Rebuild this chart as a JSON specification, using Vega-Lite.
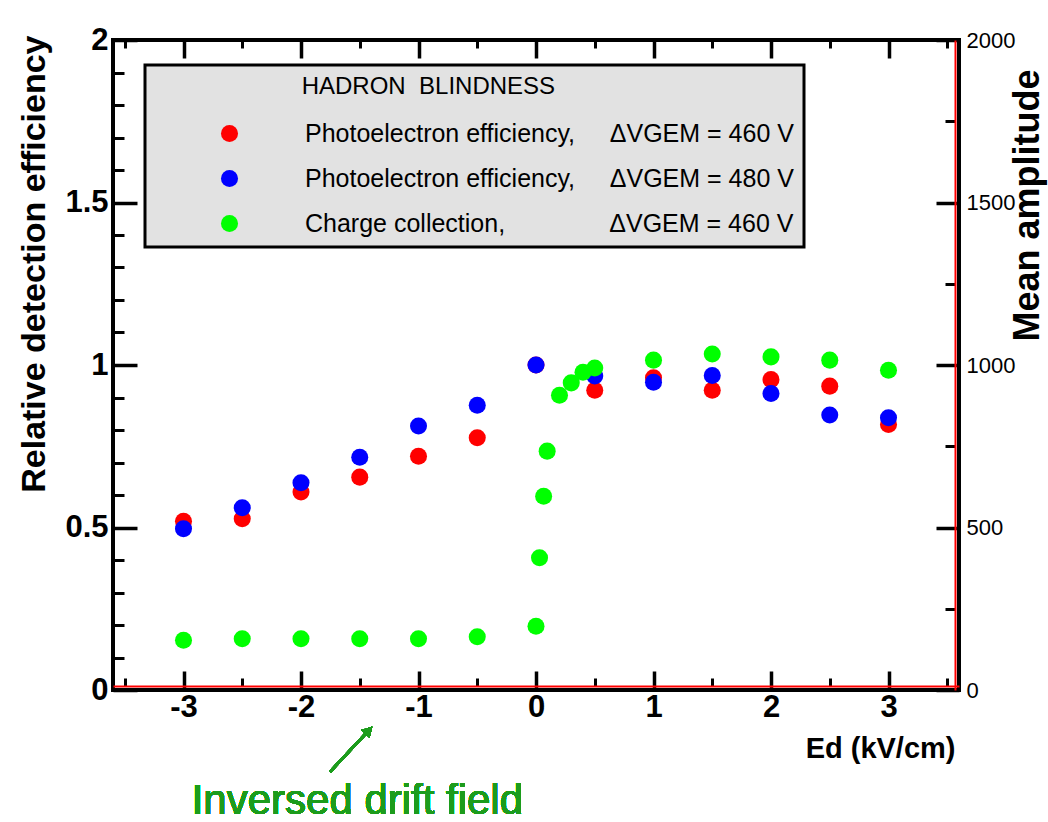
{
  "$schema": "https://vega.github.io/schema/vega-lite/v6.json",
  "autosize": {"type": "none"},
  "padding": {"left": 113, "top": 40, "right": 89, "bottom": 132},
  "width": 846,
  "height": 650,
  "background": "white",
  "config": {
    "view": {"stroke": "black", "strokeWidth": 4},
    "font": "Liberation Sans",
    "axis": {"grid": false, "domain": false, "tickColor": "black", "labelColor": "black", "titleColor": "black", "labelOverlap": false, "labelFlush": false},
    "legend": {
      "orient": "none", "legendX": 32, "legendY": 25,
      "fillColor": "#e2e2e2", "strokeColor": "black", "strokeWidth": 3, "padding": 10,
      "titleFont": "Liberation Sans", "titleFontSize": 24, "titleFontWeight": "normal", "titleColor": "black", "titlePadding": 22, "titleLimit": 1000,
      "labelFont": "Liberation Sans", "labelFontSize": 25, "labelColor": "black", "labelLimit": 1000,
      "symbolType": "circle", "symbolSize": 290, "symbolStrokeWidth": 0, "symbolOffset": 62, "labelOffset": 63, "rowPadding": 19
    }
  },
  "datasets": {
    "pts": [
      {"E": -3, "series": "pe460", "eff": 0.519},
      {"E": -2.5, "series": "pe460", "eff": 0.527},
      {"E": -2, "series": "pe460", "eff": 0.609},
      {"E": -1.5, "series": "pe460", "eff": 0.655},
      {"E": -1, "series": "pe460", "eff": 0.719},
      {"E": -0.5, "series": "pe460", "eff": 0.776},
      {"E": 0, "series": "pe460", "eff": 1.0},
      {"E": 0.5, "series": "pe460", "eff": 0.922},
      {"E": 1, "series": "pe460", "eff": 0.961},
      {"E": 1.5, "series": "pe460", "eff": 0.922},
      {"E": 2, "series": "pe460", "eff": 0.955},
      {"E": 2.5, "series": "pe460", "eff": 0.935},
      {"E": 3, "series": "pe460", "eff": 0.817},
      {"E": -3, "series": "pe480", "eff": 0.496},
      {"E": -2.5, "series": "pe480", "eff": 0.561},
      {"E": -2, "series": "pe480", "eff": 0.638},
      {"E": -1.5, "series": "pe480", "eff": 0.716},
      {"E": -1, "series": "pe480", "eff": 0.812},
      {"E": -0.5, "series": "pe480", "eff": 0.876},
      {"E": 0, "series": "pe480", "eff": 1.0},
      {"E": 0.5, "series": "pe480", "eff": 0.966},
      {"E": 1, "series": "pe480", "eff": 0.947},
      {"E": 1.5, "series": "pe480", "eff": 0.968},
      {"E": 2, "series": "pe480", "eff": 0.912},
      {"E": 2.5, "series": "pe480", "eff": 0.846},
      {"E": 3, "series": "pe480", "eff": 0.838},
      {"E": -3, "series": "cc460", "amp": 153},
      {"E": -2.5, "series": "cc460", "amp": 158},
      {"E": -2, "series": "cc460", "amp": 158},
      {"E": -1.5, "series": "cc460", "amp": 158},
      {"E": -1, "series": "cc460", "amp": 158},
      {"E": -0.5, "series": "cc460", "amp": 164},
      {"E": 0, "series": "cc460", "amp": 196},
      {"E": 0.03, "series": "cc460", "amp": 407},
      {"E": 0.065, "series": "cc460", "amp": 596},
      {"E": 0.095, "series": "cc460", "amp": 735},
      {"E": 0.2, "series": "cc460", "amp": 907},
      {"E": 0.3, "series": "cc460", "amp": 945},
      {"E": 0.4, "series": "cc460", "amp": 978},
      {"E": 0.5, "series": "cc460", "amp": 991},
      {"E": 1, "series": "cc460", "amp": 1015},
      {"E": 1.5, "series": "cc460", "amp": 1034},
      {"E": 2, "series": "cc460", "amp": 1025},
      {"E": 2.5, "series": "cc460", "amp": 1015},
      {"E": 3, "series": "cc460", "amp": 984}
    ]
  },
  "data": {"name": "pts"},
  "resolve": {"scale": {"y": "independent"}, "axis": {"x": "independent", "y": "independent"}},
  "layer": [
    {
      "transform": [{"filter": "datum.series !== 'cc460'"}],
      "mark": {"type": "circle", "size": 290, "opacity": 1},
      "encoding": {
        "x": {"field": "E", "type": "quantitative", "scale": {"domain": [-3.6, 3.6], "nice": false, "zero": false},
          "axis": {"orient": "bottom", "values": [-3, -2, -1, 0, 1, 2, 3], "labelExpr": "'' + datum.value", "tickSize": -19, "tickWidth": 3.5, "labelPadding": 21, "labelFont": "Liberation Sans", "labelFontSize": 31, "labelFontWeight": "bold",
            "title": "Ed  (kV/cm)", "titleFont": "Liberation Sans", "titleFontSize": 29, "titleFontWeight": "bold", "titleAnchor": "end", "titleAlign": "right", "titleBaseline": "alphabetic", "titleX": 842, "titleY": 67}},
        "y": {"field": "eff", "type": "quantitative", "scale": {"domain": [0, 2], "nice": false},
          "axis": {"orient": "left", "values": [0, 0.5, 1, 1.5, 2], "format": "~g", "tickSize": -24, "tickWidth": 3.5, "labelPadding": 29, "labelFont": "Liberation Sans", "labelFontSize": 31, "labelFontWeight": "bold",
            "title": "Relative detection efficiency", "titleFont": "Liberation Sans", "titleFontSize": 34, "titleFontWeight": "bold", "titleAngle": -90, "titleAlign": "right", "titleBaseline": "alphabetic", "titleX": -69, "titleY": -5}},
        "color": {"field": "series", "type": "nominal", "sort": null,
          "scale": {"domain": ["pe460", "pe480", "cc460"], "range": ["#ff0000", "#0000ff", "#00ff00"]},
          "legend": {"title": "\u200b\u00a0\u00a0\u00a0\u00a0\u00a0\u00a0\u00a0\u00a0\u00a0\u00a0\u00a0\u00a0\u00a0\u00a0\u00a0\u00a0\u00a0\u00a0\u00a0\u00a0\u00a0\u00a0HADRON\u00a0\u00a0BLINDNESS",
            "labelExpr": "datum.label === 'pe460' ? 'Photoelectron efficiency,\u00a0\u00a0\u00a0\u00a0\u00a0ΔVGEM = 460 V' : datum.label === 'pe480' ? 'Photoelectron efficiency,\u00a0\u00a0\u00a0\u00a0\u00a0ΔVGEM = 480 V' : 'Charge collection,\u00a0\u00a0\u00a0\u00a0\u00a0\u00a0\u00a0\u00a0\u00a0\u00a0\u00a0\u00a0\u00a0\u00a0\u00a0ΔVGEM = 460 V'"}}
      }
    },
    {
      "transform": [{"filter": "datum.series === 'cc460'"}],
      "mark": {"type": "circle", "size": 290, "opacity": 1},
      "encoding": {
        "x": {"field": "E", "type": "quantitative", "scale": {"domain": [-3.6, 3.6], "nice": false, "zero": false},
          "axis": {"orient": "bottom", "values": [-3.5, -2.5, -1.5, -0.5, 0.5, 1.5, 2.5, 3.5], "labels": false, "tickSize": -8, "tickWidth": 3, "domain": true, "domainColor": "#ff0000", "domainWidth": 2, "offset": -4, "title": null}},
        "y": {"field": "amp", "type": "quantitative", "scale": {"domain": [0, 2000], "nice": false},
          "axis": {"orient": "right", "values": [0, 500, 1000, 1500, 2000], "labelExpr": "'' + datum.value", "tickSize": -23, "tickWidth": 3.5, "labelPadding": 30, "labelFont": "Liberation Sans", "labelFontSize": 22, "labelFontWeight": "normal",
            "title": "Mean amplitude", "titleFont": "Liberation Sans", "titleFontSize": 36, "titleFontWeight": "bold", "titleAngle": -90, "titleAlign": "center", "titleBaseline": "alphabetic", "titleX": 79, "titleY": 165}},
        "color": {"field": "series", "type": "nominal", "sort": null,
          "scale": {"domain": ["pe460", "pe480", "cc460"], "range": ["#ff0000", "#0000ff", "#00ff00"]}}
      }
    },
    {
      "mark": {"type": "point", "opacity": 0, "size": 1},
      "encoding": {
        "x": {"field": "E", "type": "quantitative", "scale": {"domain": [-3.6, 3.6], "nice": false, "zero": false},
          "axis": {"orient": "top", "values": [-3, -2, -1, 0, 1, 2, 3], "labels": false, "tickSize": -18, "tickWidth": 3.5, "title": null}},
        "y": {"field": "eff", "type": "quantitative", "scale": {"domain": [0, 2], "nice": false},
          "axis": {"orient": "left", "values": [0.1, 0.2, 0.3, 0.4, 0.6, 0.7, 0.8, 0.9, 1.1, 1.2, 1.3, 1.4, 1.6, 1.7, 1.8, 1.9], "labels": false, "tickSize": -11, "tickWidth": 3, "title": null}}
      }
    },
    {
      "mark": {"type": "point", "opacity": 0, "size": 1},
      "encoding": {
        "x": {"field": "E", "type": "quantitative", "scale": {"domain": [-3.6, 3.6], "nice": false, "zero": false},
          "axis": {"orient": "top", "values": [-3.5, -2.5, -1.5, -0.5, 0.5, 1.5, 2.5, 3.5], "labels": false, "tickSize": -8, "tickWidth": 3, "title": null}},
        "y": {"field": "amp", "type": "quantitative", "scale": {"domain": [0, 2000], "nice": false},
          "axis": {"orient": "right", "values": [250, 750, 1250, 1750], "labels": false, "tickSize": -10, "tickWidth": 3, "domain": true, "domainColor": "#ff0000", "domainWidth": 2, "offset": -4, "title": null}}
      }
    },
    {
      "mark": {"type": "text", "text": "Inversed drift field", "font": "Liberation Sans", "fontSize": 42, "color": "#1c9c1c", "align": "center", "baseline": "alphabetic"},
      "encoding": {
        "x": {"datum": -1.52, "type": "quantitative", "scale": {"domain": [-3.6, 3.6], "nice": false, "zero": false}, "axis": null},
        "y": {"datum": -0.383, "type": "quantitative", "scale": {"domain": [0, 2], "nice": false}, "axis": null}
      }
    },
    {
      "mark": {"type": "rule", "color": "#1c9c1c", "strokeWidth": 2.5},
      "encoding": {
        "x": {"datum": -1.751, "type": "quantitative", "scale": {"domain": [-3.6, 3.6], "nice": false, "zero": false}, "axis": null},
        "y": {"datum": -0.251, "type": "quantitative", "scale": {"domain": [0, 2], "nice": false}, "axis": null},
        "x2": {"datum": -1.423},
        "y2": {"datum": -0.124}
      }
    },
    {
      "mark": {"type": "point", "shape": "triangle-up", "filled": true, "opacity": 1, "color": "#1c9c1c", "size": 130, "angle": 43, "strokeWidth": 0},
      "encoding": {
        "x": {"datum": -1.423, "type": "quantitative", "scale": {"domain": [-3.6, 3.6], "nice": false, "zero": false}, "axis": null},
        "y": {"datum": -0.124, "type": "quantitative", "scale": {"domain": [0, 2], "nice": false}, "axis": null}
      }
    }
  ]
}
